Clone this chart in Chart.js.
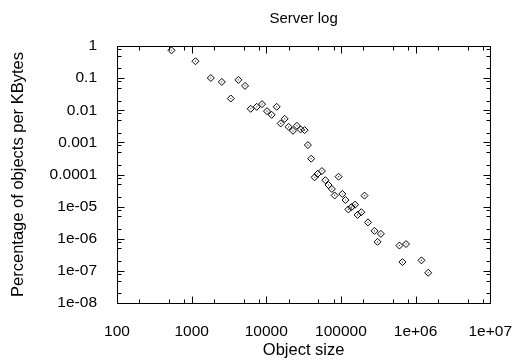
<!DOCTYPE html>
<html>
<head>
<meta charset="utf-8">
<script src="https://cdn.jsdelivr.net/npm/chart.js@4"></script>
<style>
  html, body { margin: 0; padding: 0; background: #fff; }
  #wrap { width: 523px; height: 360px; }
</style>
</head>
<body>
<div id="wrap"><canvas id="chart" width="523" height="360"></canvas></div>
<script>
'use strict';

// object size (bytes)
const sizes = [537, 1125, 1807, 2535, 3344, 4226, 5190, 6180, 7440, 8770,
  10220, 11800, 13770, 15590, 17620, 19910, 22750, 25720, 28830, 32600,
  36060, 39970, 44370, 48650, 55590, 61830, 68060, 75560, 82340, 92900,
  104400, 115200, 125600, 138600, 154400, 167200, 187500, 206900, 230300, 281200,
  309500, 342800, 607100, 666400, 744400, 1199000, 1475000];

// percentage of objects per KBytes
const percents = [0.735, 0.335, 0.101, 0.0762, 0.0232, 0.0879, 0.0573, 0.0111, 0.0128, 0.0155,
  0.00938, 0.0072, 0.0128, 0.00389, 0.0054, 0.00305, 0.00229, 0.00328, 0.00253, 0.00241,
  0.000824, 0.00031, 8.18e-5, 1.04e-4, 1.28e-4, 6.65e-5, 4.72e-5, 3.55e-5, 2.23e-5, 8.55e-5,
  2.48e-5, 1.61e-5, 8.18e-6, 9.65e-6, 1.15e-5, 5.52e-6, 6.7e-6, 2.2e-5, 3.23e-6, 1.76e-6,
  8.01e-7, 1.42e-6, 6.15e-7, 1.88e-7, 6.84e-7, 2.13e-7, 8.73e-8];

const xTicks = [100, 1000, 10000, 100000, 1e6, 1e7];
const xTickLabels = ['100', '1000', '10000', '100000', '1e+06', '1e+07'];
const yTicks = [1, 0.1, 0.01, 0.001, 0.0001, 1e-5, 1e-6, 1e-7, 1e-8];
const yTickLabels = ['1', '0.1', '0.01', '0.001', '0.0001', '1e-05', '1e-06', '1e-07', '1e-08'];
const minorSteps = [2, 5, 8];

Chart.defaults.font.family = '"Liberation Sans", Arial, sans-serif';
Chart.defaults.color = '#000';

const points = sizes.map((s, i) => ({x: s, y: percents[i]}));

// gnuplot style frame with inward ticks on all four sides
const frameTicks = {
  id: 'frameTicks',
  afterDatasetsDraw(chart) {
    const {ctx, chartArea: a, scales: {x, y}} = chart;
    const snap = v => Math.round(v) + 0.5;
    const L = snap(a.left), R = snap(a.right), T = snap(a.top), B = snap(a.bottom);
    ctx.save();
    ctx.strokeStyle = '#000';
    ctx.lineWidth = 1;
    ctx.beginPath();
    const xt = (v, len) => {
      const p = snap(x.getPixelForValue(v));
      ctx.moveTo(p, B); ctx.lineTo(p, B - len);
      ctx.moveTo(p, T); ctx.lineTo(p, T + len);
    };
    const yt = (v, len) => {
      const p = snap(y.getPixelForValue(v));
      ctx.moveTo(L, p); ctx.lineTo(L + len, p);
      ctx.moveTo(R, p); ctx.lineTo(R - len, p);
    };
    xTicks.forEach((v, i) => {
      xt(v, 7);
      if (i < xTicks.length - 1) minorSteps.forEach(m => xt(v * m, 4));
    });
    yTicks.forEach((v, i) => {
      yt(v, 7);
      if (i < yTicks.length - 1) minorSteps.forEach(m => yt(v / 10 * m, 4));
    });
    ctx.rect(L, T, R - L, B - T);
    ctx.stroke();
    ctx.restore();
  }
};

new Chart(document.getElementById('chart'), {
  type: 'scatter',
  data: {
    datasets: [{
      data: points,
      pointStyle: 'rectRot',
      pointRadius: 3.5,
      borderColor: '#000',
      borderWidth: 1,
      backgroundColor: 'rgba(0,0,0,0)'
    }, {
      data: points,
      pointStyle: 'rect',
      pointRadius: 0.8,
      borderWidth: 0,
      backgroundColor: '#444'
    }]
  },
  options: {
    responsive: false,
    animation: false,
    events: [],
    layout: { padding: { left: 0, right: 31, top: 0, bottom: 0 } },
    plugins: {
      legend: { display: false },
      tooltip: { enabled: false },
      title: {
        display: true,
        text: 'Server log',
        fullSize: false,
        color: '#000',
        font: { size: 15, weight: 'normal' },
        padding: { top: 10, bottom: 18 }
      }
    },
    scales: {
      x: {
        type: 'logarithmic',
        min: 100,
        max: 1e7,
        grid: { display: false },
        border: { display: false },
        afterBuildTicks: s => { s.ticks = xTicks.map(v => ({value: v})); },
        afterFit: s => { s.height = 57; },
        ticks: {
          padding: 11,
          maxRotation: 0,
          autoSkip: false,
          font: { size: 15.5 },
          callback: (v, i) => xTickLabels[i]
        },
        title: {
          display: true,
          text: 'Object size',
          font: { size: 16.5 },
          padding: { top: 0, bottom: 0 }
        }
      },
      y: {
        type: 'logarithmic',
        min: 1e-8,
        max: 1,
        grid: { display: false },
        border: { display: false },
        afterBuildTicks: s => { s.ticks = yTicks.map(v => ({value: v})); },
        afterFit: s => { s.width = 117; },
        ticks: {
          padding: 12,
          autoSkip: false,
          font: { size: 15.5 },
          callback: (v, i) => yTickLabels[i]
        },
        title: {
          display: true,
          text: 'Percentage of objects per KBytes',
          font: { size: 16.5 },
          padding: { top: 9, bottom: 0 }
        }
      }
    }
  },
  plugins: [frameTicks]
});
</script>
</body>
</html>
